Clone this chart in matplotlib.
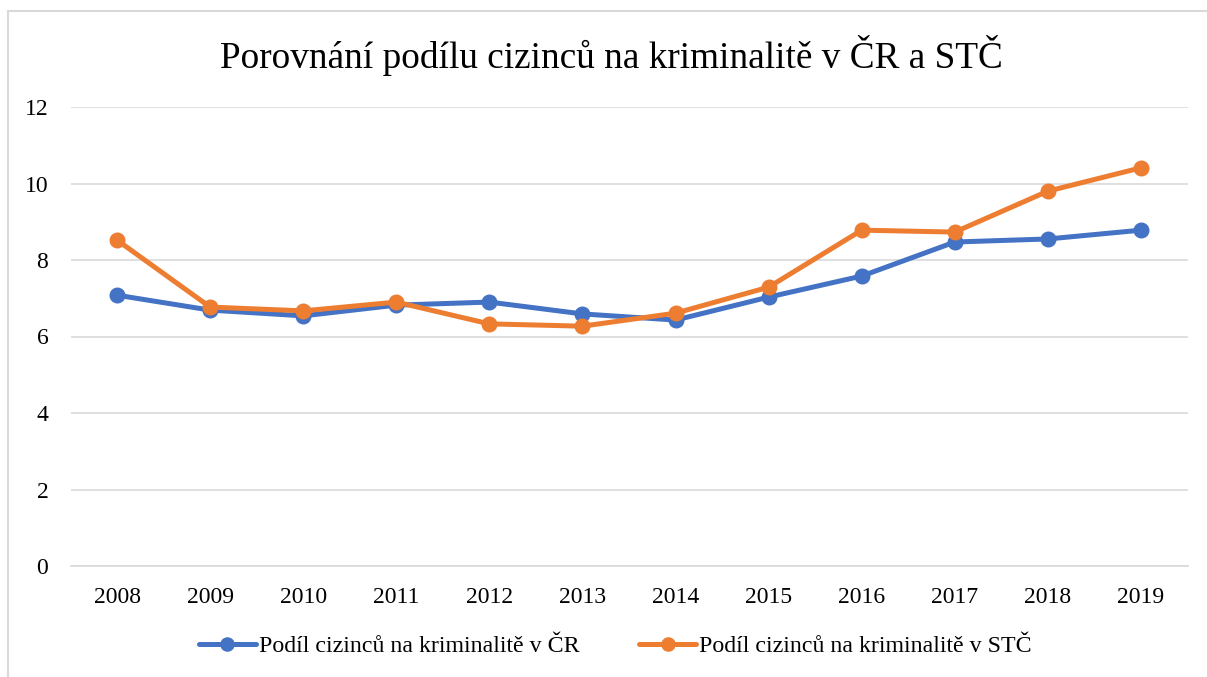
import matplotlib
matplotlib.use("Agg")
import matplotlib.pyplot as plt
from matplotlib.patches import Rectangle

years = ["2008", "2009", "2010", "2011", "2012", "2013", "2014", "2015", "2016", "2017", "2018", "2019"]
cr_values = [7.08, 6.69, 6.54, 6.82, 6.90, 6.59, 6.43, 7.03, 7.58, 8.47, 8.55, 8.78]
stc_values = [8.52, 6.77, 6.67, 6.90, 6.33, 6.27, 6.61, 7.29, 8.78, 8.73, 9.80, 10.41]
series_names = ["Podíl cizinců na kriminalitě v ČR", "Podíl cizinců na kriminalitě v STČ"]
title = "Porovnání podílu cizinců na kriminalitě v ČR a STČ"

plt.rcParams['font.family'] = ['Liberation Serif', 'DejaVu Serif']

W, H = 1207, 677
fig = plt.figure(figsize=(W / 100, H / 100), dpi=100)
fig.patches.append(Rectangle((8 / W, -0.05), 1.1, 1.05 - 11 / H,
                             transform=fig.transFigure, fill=False,
                             edgecolor="#d9d9d9", linewidth=1.5))

ax = fig.add_axes([70.5 / W, 1 - 566 / H, (1187.5 - 70.5) / W, (566 - 107) / H])
x = list(range(len(years)))
ax.plot(x, cr_values, color="#4472c4", linewidth=3.6, marker="o", markersize=10.5,
        label=series_names[0], solid_capstyle="round", zorder=3)
ax.plot(x, stc_values, color="#ed7d31", linewidth=3.6, marker="o", markersize=10.5,
        label=series_names[1], solid_capstyle="round", zorder=4)

ax.set_xlim(-0.5, len(years) - 0.5)
ax.set_ylim(0, 12)
ax.set_yticks(range(0, 13, 2))
ax.set_xticks(x)
ax.set_xticklabels(years)
ax.grid(axis="y", color="#d9d9d9", linewidth=1.2)
ax.set_axisbelow(True)
for s in ["left", "right", "top"]:
    ax.spines[s].set_visible(False)
ax.spines["bottom"].set_color("#d9d9d9")
ax.spines["bottom"].set_linewidth(1.2)
ax.tick_params(axis="both", length=0, labelsize=17, colors="#000000")
ax.tick_params(axis="x", pad=15)
ax.tick_params(axis="y", pad=16)

fig.text(611 / W, 1 - 55 / H, title, ha="center", va="center", fontsize=26.8)

leg = ax.legend(loc="center", bbox_to_anchor=((615 - 70.5) / 1117, (566 - 646) / (566 - 107)), ncol=2,
                frameon=False, fontsize=17.2, handlelength=2.4, columnspacing=2.5,
                handletextpad=0.1, markerscale=0.9)

fig.savefig("out.png", dpi=100)
